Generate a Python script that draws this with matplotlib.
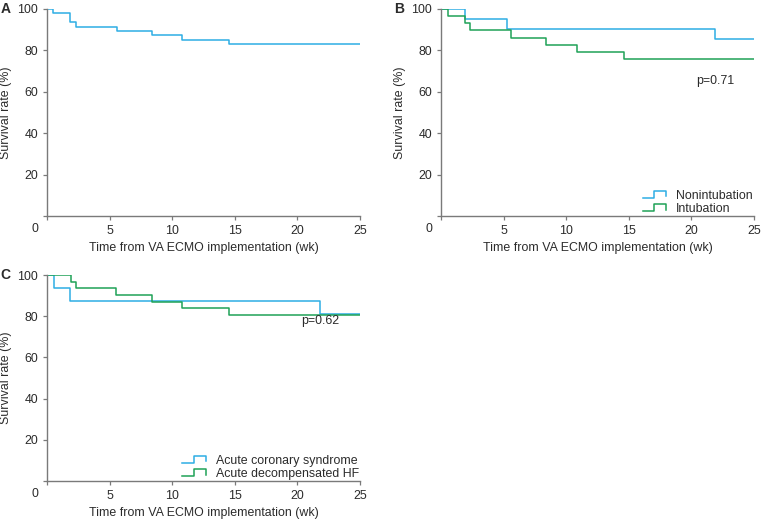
import matplotlib
matplotlib.use("Agg")
import matplotlib.pyplot as plt
import numpy as np
from matplotlib.lines import Line2D
from matplotlib.legend_handler import HandlerBase

plt.rcParams['font.family'] = ['Liberation Sans', 'DejaVu Sans']

# Kaplan-Meier step data (weeks, survival %)
all_t = [0.5, 1.8, 2.3, 5.6, 8.4, 10.8, 14.5]
all_s = [97.9, 93.6, 91.5, 89.4, 87.2, 85.1, 83.0]

nonint_t = [1.9, 5.3, 21.9]
nonint_s = [95.2, 90.5, 85.7]
intub_t = [0.6, 1.9, 2.3, 5.6, 8.4, 10.9, 14.6]
intub_s = [96.6, 93.1, 89.7, 86.2, 82.8, 79.3, 75.9]

acs_t = [0.55, 1.85, 21.8]
acs_s = [93.75, 87.5, 81.25]
adhf_t = [1.9, 2.35, 5.55, 8.4, 10.8, 14.5]
adhf_s = [96.8, 93.5, 90.3, 87.1, 83.9, 80.6]

t_end = 25
xticks = [0, 5, 10, 15, 20, 25]
yticks = [0, 20, 40, 60, 80, 100]

BLUE = '#2eaee4'
GREEN = '#1fa257'
TXT = '#2b2b2b'
AXC = '#7a7a7a'
FS = 8.9


class StepHandler(HandlerBase):
    def create_artists(self, legend, orig_handle, xdescent, ydescent,
                       width, height, fontsize, trans):
        xs = np.array([0, 0.5, 0.5, 1, 1]) * width - xdescent
        ys = np.array([0.1, 0.1, 0.85, 0.85, 0.25]) * height - ydescent
        ln = Line2D(xs, ys, color=orig_handle.get_color(),
                    lw=orig_handle.get_linewidth())
        ln.set_transform(trans)
        return [ln]


def km(ax, t, s, color):
    x = [0] + t + [t_end]
    y = [100] + s + [s[-1]]
    return ax.step(x, y, where='post', color=color, lw=1.1)[0]


def style(ax, letter):
    ax.set_xlim(0, t_end)
    ax.set_ylim(0, 100)
    for sp in ['top', 'right']:
        ax.spines[sp].set_visible(False)
    for sp in ['left', 'bottom']:
        ax.spines[sp].set_color(AXC)
        ax.spines[sp].set_linewidth(1.0)
    ax.set_xticks(xticks)
    ax.set_xticklabels([''] + [str(v) for v in xticks[1:]])
    ax.set_yticks(yticks)
    ax.set_yticklabels([''] + [str(v) for v in yticks[1:]])
    ax.tick_params(colors=AXC, labelcolor=TXT, labelsize=FS, length=3,
                   width=0.9, pad=3.5)
    # shared origin label, placed to the lower left of the corner
    ax.annotate('0', xy=(0, 0), xycoords='data', xytext=(-8.6, -9.4),
                textcoords='offset points', ha='center', va='center',
                fontsize=FS, color=TXT, annotation_clip=False)
    ax.set_xlabel('Time from VA ECMO implementation (wk)', fontsize=FS,
                  color=TXT)
    ax.xaxis.set_label_coords(0.5, -0.125)
    ax.set_ylabel('Survival rate (%)', fontsize=FS, color=TXT)
    ax.yaxis.set_label_coords(-0.112, 0.5)
    ax.annotate(letter, xy=(0, 1), xycoords='axes fraction', xytext=(-30, 0),
                textcoords='offset points', ha='center', va='center',
                fontsize=10, fontweight='bold', color=TXT,
                annotation_clip=False)


fig = plt.figure(figsize=(7.64, 5.22), dpi=100)
axA = fig.add_axes([0.0615, 0.5862, 0.4097, 0.3966])
axB = fig.add_axes([0.5772, 0.5862, 0.4097, 0.3966])
axC = fig.add_axes([0.0615, 0.0785, 0.4097, 0.3946])

km(axA, all_t, all_s, BLUE)
style(axA, 'A')

h1 = km(axB, nonint_t, nonint_s, BLUE)
h2 = km(axB, intub_t, intub_s, GREEN)
style(axB, 'B')
axB.text(21.9, 65, 'p=0.71', ha='center', va='center', fontsize=FS, color=TXT)
axB.legend([h1, h2], ['Nonintubation', 'Intubation'], loc='lower right',
           frameon=False, fontsize=FS, handlelength=1.9, handletextpad=0.8,
           labelspacing=0.1, borderaxespad=0.0, borderpad=0.1,
           handler_map={h1: StepHandler(), h2: StepHandler()},
           labelcolor=TXT)

h3 = km(axC, acs_t, acs_s, BLUE)
h4 = km(axC, adhf_t, adhf_s, GREEN)
style(axC, 'C')
axC.text(21.8, 77.5, 'p=0.62', ha='center', va='center', fontsize=FS, color=TXT)
axC.legend([h3, h4], ['Acute coronary syndrome', 'Acute decompensated HF'],
           loc='lower right', frameon=False, fontsize=FS, handlelength=1.9,
           handletextpad=0.8, labelspacing=0.1, borderaxespad=0.0,
           borderpad=0.1,
           handler_map={h3: StepHandler(), h4: StepHandler()},
           labelcolor=TXT)

fig.savefig('out.png', dpi=100)
